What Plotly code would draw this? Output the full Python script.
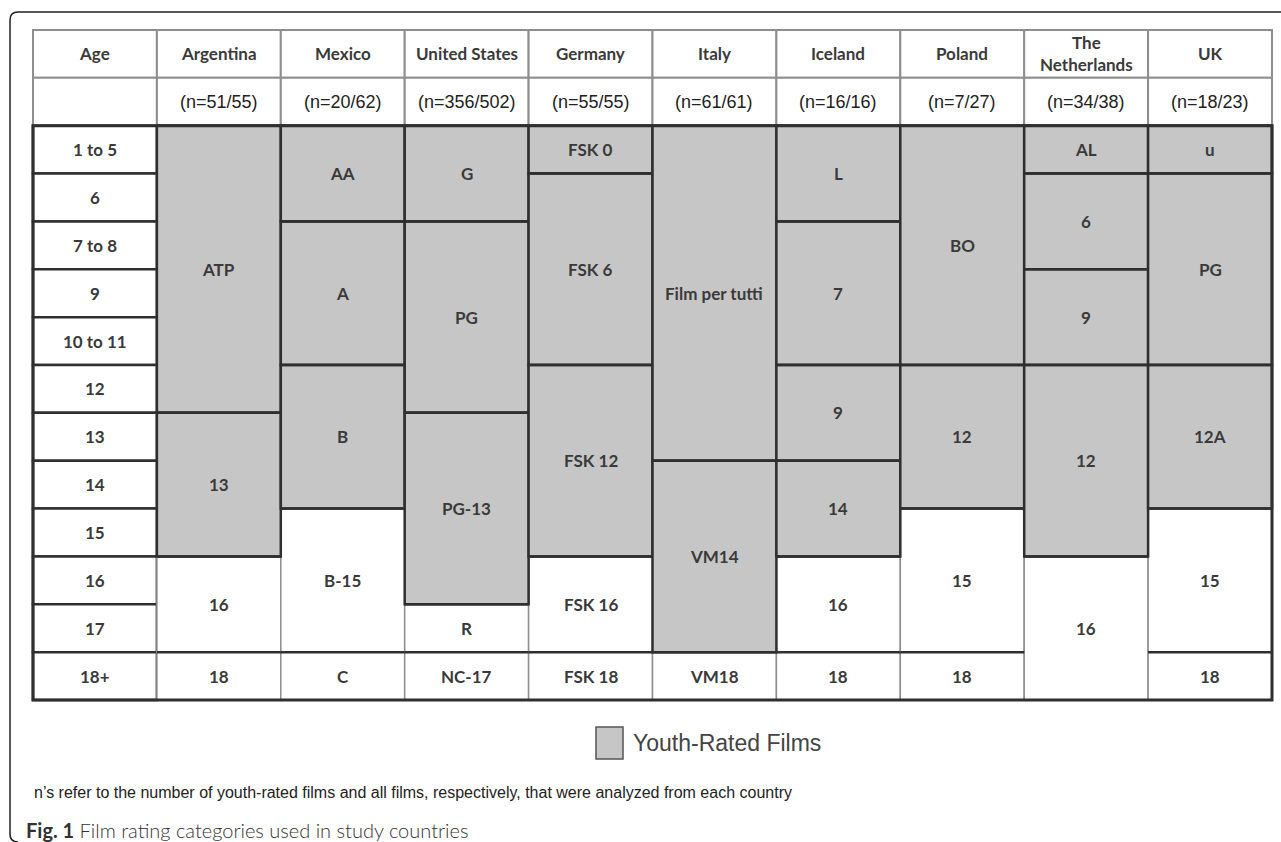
import plotly.graph_objects as go

# ---------------- data ----------------
ages = ["1 to 5", "6", "7 to 8", "9", "10 to 11", "12", "13", "14", "15", "16", "17", "18+"]
countries = ["Argentina", "Mexico", "United States", "Germany", "Italy",
             "Iceland", "Poland", "The<br>Netherlands", "UK"]
n_labels = ["(n=51/55)", "(n=20/62)", "(n=356/502)", "(n=55/55)", "(n=61/61)",
            "(n=16/16)", "(n=7/27)", "(n=34/38)", "(n=18/23)"]

# rating labels, number of age rows each rating spans, number of youth-rated ratings
arg_ratings = ["ATP", "13", "16", "18"];            arg_spans = [6, 3, 2, 1];       arg_youth = 2
mex_ratings = ["AA", "A", "B", "B-15", "C"];        mex_spans = [2, 3, 3, 3, 1];    mex_youth = 3
usa_ratings = ["G", "PG", "PG-13", "R", "NC-17"];   usa_spans = [2, 4, 4, 1, 1];    usa_youth = 3
ger_ratings = ["FSK 0", "FSK 6", "FSK 12", "FSK 16", "FSK 18"]; ger_spans = [1, 4, 4, 2, 1]; ger_youth = 3
ita_ratings = ["Film per tutti", "VM14", "VM18"];   ita_spans = [7, 4, 1];          ita_youth = 2
ice_ratings = ["L", "7", "9", "14", "16", "18"];    ice_spans = [2, 3, 2, 2, 2, 1]; ice_youth = 4
pol_ratings = ["BO", "12", "15", "18"];             pol_spans = [5, 3, 3, 1];       pol_youth = 2
ned_ratings = ["AL", "6", "9", "12", "16"];         ned_spans = [1, 2, 2, 4, 3];    ned_youth = 4
uk_ratings = ["u", "PG", "12A", "15", "18"];        uk_spans = [1, 4, 3, 3, 1];     uk_youth = 3

all_ratings = [arg_ratings, mex_ratings, usa_ratings, ger_ratings, ita_ratings,
               ice_ratings, pol_ratings, ned_ratings, uk_ratings]
all_spans = [arg_spans, mex_spans, usa_spans, ger_spans, ita_spans,
             ice_spans, pol_spans, ned_spans, uk_spans]
all_youth = [arg_youth, mex_youth, usa_youth, ger_youth, ita_youth,
             ice_youth, pol_youth, ned_youth, uk_youth]

legend_label = "Youth-Rated Films"
footnote = "n\u2019s refer to the number of youth-rated films and all films, respectively, that were analyzed from each country"
caption_bold = "Fig. 1"
caption_text = " Film rating categories used in study countries"

# ---------------- styling ----------------
W, H = 1281, 842
GRAY = "#c6c6c6"
DARK = "#2f2f2f"
LIGHT = "#8e8e8e"
TXT = "#3a3a3a"
HEAD_FONT = dict(family="Lato", size=17, color=TXT, weight="bold")
N_FONT = dict(family="Liberation Sans", size=18, color="#222222")

# table placement in pixels -> axis ranges (columns/rows are unit-wide)
tbl_left, tbl_right, tbl_top, tbl_bottom = 33, 1272, 30, 700
ncols, nrows = 1 + len(countries), 2 + len(ages)
cw = (tbl_right - tbl_left) / ncols
rh = (tbl_bottom - tbl_top) / nrows
x_range = [-tbl_left / cw, ncols + (W - tbl_right) / cw]
y_range = [nrows + (H - tbl_bottom) / rh, -tbl_top / rh]

shapes = []
annotations = []


def rect(x0, x1, y0, y1, fill, color, width):
    shapes.append(dict(type="rect", xref="x", yref="y", x0=x0, x1=x1, y0=y0, y1=y1,
                       fillcolor=fill, line=dict(color=color, width=width)))


def hline(x0, x1, y, color, width):
    shapes.append(dict(type="line", xref="x", yref="y", x0=x0, x1=x1, y0=y, y1=y,
                       line=dict(color=color, width=width)))


def label(x, y, text, font):
    annotations.append(dict(x=x, y=y, xref="x", yref="y", text=text, showarrow=False,
                            font=font, xanchor="center", yanchor="middle"))


# header rows
header = ["Age"] + countries
for c in range(ncols):
    rect(c, c + 1, 0, 1, "white", LIGHT, 2)
    rect(c, c + 1, 1, 2, "white", LIGHT, 2)
    label(c + 0.5, 0.5, header[c], HEAD_FONT)
    if c > 0:
        label(c + 0.5, 1.5, n_labels[c - 1], N_FONT)

# age column
for i, a in enumerate(ages):
    rect(0, 1, i + 2, i + 3, "white", DARK, 2.5)
    label(0.5, i + 2.5, a, HEAD_FONT)

# body cells
white_cells, gray_cells = [], []
for ci, (rats, spans, ny) in enumerate(zip(all_ratings, all_spans, all_youth)):
    col = ci + 1
    start = 0
    for k, (r, s) in enumerate(zip(rats, spans)):
        cell = (col, start + 2, start + 2 + s, r)
        (gray_cells if k < ny else white_cells).append(cell)
        start += s

for col, y0, y1, r in white_cells:
    rect(col, col + 1, y0, y1, "white", LIGHT, 1.5)
for col, y0, y1, r in gray_cells:
    rect(col, col + 1, y0, y1, GRAY, DARK, 2.5)
for col, y0, y1, r in white_cells + gray_cells:
    hline(col, col + 1, y0, DARK, 2.5)
    label(col + 0.5, (y0 + y1) / 2, r, HEAD_FONT)

# outer border of body
shapes.append(dict(type="rect", xref="x", yref="y", x0=0, x1=ncols, y0=2, y1=nrows,
                   line=dict(color=DARK, width=3)))


# ---------------- footer / frame (paper coords from pixels) ----------------
def px(x):
    return x / W


def py(y):
    return 1 - y / H


# legend swatch + label
shapes.append(dict(type="rect", xref="paper", yref="paper",
                   x0=px(596), x1=px(623), y0=py(759), y1=py(727),
                   fillcolor=GRAY, line=dict(color="#555555", width=1.5)))
annotations.append(dict(x=px(631), y=py(743), xref="paper", yref="paper", text=legend_label,
                        showarrow=False, xanchor="left", yanchor="middle",
                        font=dict(family="Liberation Sans", size=23, color="#444444")))
annotations.append(dict(x=px(32), y=py(792), xref="paper", yref="paper", text=footnote,
                        showarrow=False, xanchor="left", yanchor="middle",
                        font=dict(family="Liberation Sans", size=16, color="#222222")))
annotations.append(dict(x=px(24), y=py(830), xref="paper", yref="paper",
                        text="<b>" + caption_bold + "</b>" + caption_text,
                        showarrow=False, xanchor="left", yanchor="middle",
                        font=dict(family="Lato", size=20, color="#333333", weight=300)))

# frame: top line and left line with rounded corners
frame_path = (f"M {px(W)} {py(12)} L {px(18)} {py(12)} "
              f"Q {px(10)} {py(12)} {px(10)} {py(20)} "
              f"L {px(10)} {py(834)} Q {px(10)} {py(842)} {px(18)} {py(842)}")
shapes.append(dict(type="path", xref="paper", yref="paper", path=frame_path,
                   line=dict(color="#222222", width=1.5)))

fig = go.Figure()
fig.update_layout(
    width=W, height=H, autosize=False,
    margin=dict(l=0, r=0, t=0, b=0, pad=0),
    paper_bgcolor="white", plot_bgcolor="white",
    xaxis=dict(range=x_range, visible=False, fixedrange=True),
    yaxis=dict(range=y_range, visible=False, fixedrange=True),
    shapes=shapes, annotations=annotations, showlegend=False,
)
fig.write_html("out.html", config={"displayModeBar": False},
               post_script="document.body.style.margin='0';document.body.style.overflow='hidden';")
